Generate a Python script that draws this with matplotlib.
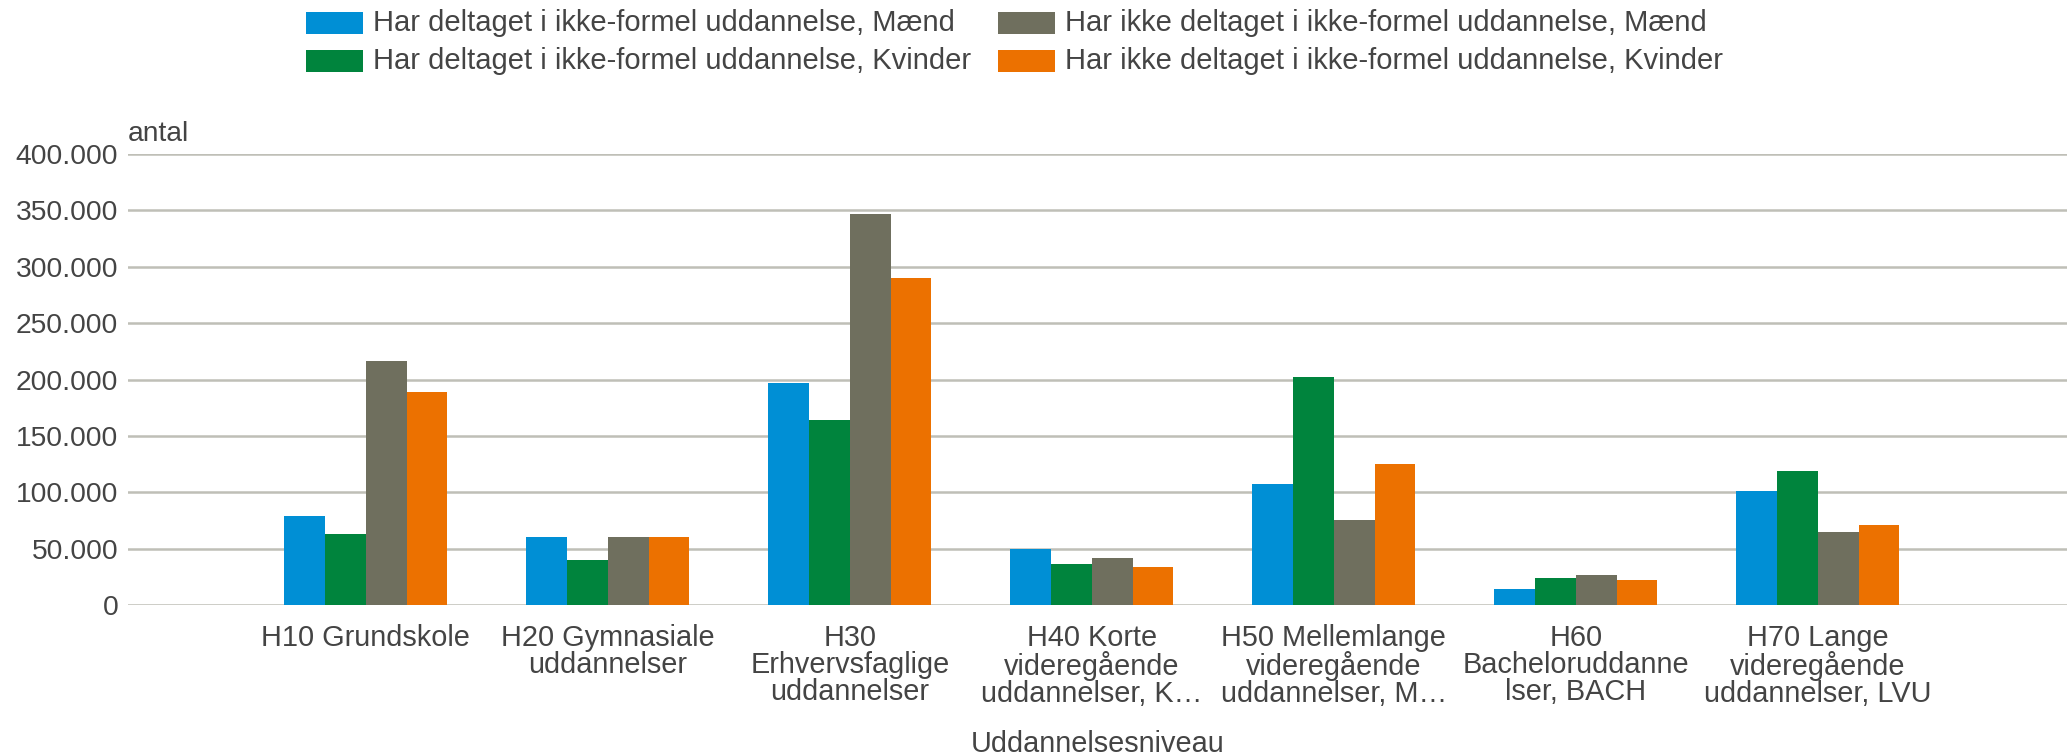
import matplotlib
matplotlib.use("Agg")
import matplotlib.pyplot as plt
import numpy as np
from matplotlib.patches import Rectangle

plt.rcParams['font.family'] = ['Liberation Sans', 'DejaVu Sans']

categories = [
    "H10 Grundskole",
    "H20 Gymnasiale\nuddannelser",
    "H30\nErhvervsfaglige\nuddannelser",
    "H40 Korte\nvideregående\nuddannelser, K…",
    "H50 Mellemlange\nvideregående\nuddannelser, M…",
    "H60\nBacheloruddanne\nlser, BACH",
    "H70 Lange\nvideregående\nuddannelser, LVU",
]
series_names = [
    "Har deltaget i ikke-formel uddannelse, Mænd",
    "Har deltaget i ikke-formel uddannelse, Kvinder",
    "Har ikke deltaget i ikke-formel uddannelse, Mænd",
    "Har ikke deltaget i ikke-formel uddannelse, Kvinder",
]
deltaget_maend = [79000, 60000, 197000, 50000, 107000, 14500, 101000]
deltaget_kvinder = [63000, 40000, 164000, 36000, 202500, 24000, 119000]
ikke_maend = [216000, 60000, 347000, 42000, 75000, 26500, 65000]
ikke_kvinder = [189000, 60000, 290000, 34000, 125000, 22000, 71000]
y_ticks = [0, 50000, 100000, 150000, 200000, 250000, 300000, 350000, 400000]
y_tick_labels = ["0", "50.000", "100.000", "150.000", "200.000", "250.000",
                 "300.000", "350.000", "400.000"]
y_title = "antal"
x_title = "Uddannelsesniveau"

colors = ["#008fd5", "#00843d", "#6f6f5e", "#ec7100"]
text_color = "#444444"
grid_color = "#bfbfb7"

W, H = 2067, 756
fig = plt.figure(figsize=(W / 100, H / 100), dpi=100)
ax_left, ax_right, ax_bottom, ax_top = 128, 2067, 605, 154
ax = fig.add_axes([ax_left / W, (H - ax_bottom) / H, (ax_right - ax_left) / W,
                   (ax_bottom - ax_top) / H])

data = [deltaget_maend, deltaget_kvinder, ikke_maend, ikke_kvinder]
x = np.arange(len(categories))
bw = 0.1685
for i, (vals, c) in enumerate(zip(data, colors)):
    ax.bar(x + (i - 1.5) * bw, vals, width=bw, color=c, zorder=3, linewidth=0)

ax.set_xlim(-0.983, 7.03)
ax.set_ylim(0, 400000)
ax.set_yticks(y_ticks)
ax.set_yticklabels(y_tick_labels)
ax.set_xticks(x)
ax.set_xticklabels(categories, linespacing=0.97, va='top')
ax.tick_params(axis='both', length=0, labelcolor=text_color)
ax.tick_params(axis='y', pad=7, labelsize=20.3)
ax.tick_params(axis='x', pad=13.5, labelsize=20.8)
for s in ax.spines.values():
    s.set_visible(False)
ax.yaxis.grid(True, color=grid_color, linewidth=1.8, zorder=0)
ax.set_axisbelow(True)

fig.text(ax_left / W, (H - 141) / H, y_title, fontsize=20.3, color=text_color,
         ha='left', va='baseline')
fig.text((ax_left + ax_right) / 2 / W, (H - 752) / H, x_title, fontsize=20.8,
         color=text_color, ha='center', va='baseline')

# legend (2 columns)
patch_w, patch_h = 57, 22
col_x = [306, 998]
row_y = [23, 61]
for i, (name, c) in enumerate(zip(series_names, colors)):
    col = i // 2
    row = i % 2
    px, py = col_x[col], row_y[row]
    fig.patches.append(Rectangle((px / W, (H - py - patch_h / 2) / H), patch_w / W,
                                 patch_h / H, transform=fig.transFigure,
                                 facecolor=c, edgecolor='none'))
    fig.text((px + patch_w + 10) / W, (H - py) / H, name, fontsize=21,
             color=text_color, ha='left', va='center')

fig.savefig("out.png", dpi=100, facecolor='white')
